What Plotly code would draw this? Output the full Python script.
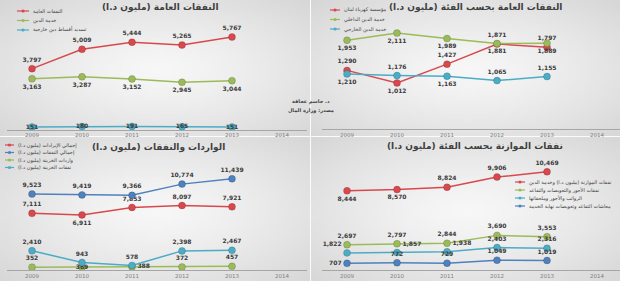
import plotly.graph_objects as go
import zlib, struct, base64

# ---------------- data ----------------
years = [2009, 2010, 2011, 2012, 2013, 2014]
year_labels = ["2009", "2010", "2011", "2012", "2013", "2014"]
data_years = years[:5]

# panel 1 : النفقات العامة
p1_title = "النفقات العامة (مليون د.ا)"
p1_names = ["النفقات العامة", "خدمة الدين", "تسديد أقساط دين خارجية"]
p1_total = [3797, 5009, 5444, 5265, 5767]
p1_debt = [3163, 3287, 3152, 2945, 3044]
p1_ext = [151, 180, 191, 165, 151]

# panel 2 : النفقات العامة بحسب الفئة
p2_title = "النفقات العامة بحسب الفئة (مليون د.ا)"
p2_names = ["مؤسسة كهرباء لبنان", "خدمة الدين الداخلي", "خدمة الدين الخارجي"]
p2_edl = [1290, 1012, 1427, 1871, 1797]
p2_internal = [1953, 2111, 1989, 1881, 1889]
p2_external = [1210, 1176, 1163, 1065, 1155]

# panel 3 : الواردات والنفقات
p3_title = "الواردات والنفقات (مليون د.ا)"
p3_names = ["إجمالي الإيرادات (مليون د.ا)", "إجمالي النفقات (مليون د.ا)",
            "واردات الخزينة (مليون د.ا)", "نفقات الخزينة (مليون د.ا)"]
p3_revenue = [7111, 6911, 7853, 8097, 7921]
p3_expense = [9523, 9419, 9366, 10774, 11439]
p3_treas_in = [352, 369, 388, 372, 457]
p3_treas_out = [2410, 943, 578, 2398, 2467]

# panel 4 : نفقات الموازنة بحسب الفئة
p4_title = "نفقات الموازنة بحسب الفئة (مليون د.ا)"
p4_names = ["نفقات الموازنة (مليون د.ا) وخدمة الدين", "نفقات الأجور والتعويضات والتقاعد",
            "الرواتب والأجور وملحقاتها", "معاشات التقاعد وتعويضات نهاية الخدمة"]
p4_budget = [8444, 8570, 8824, 9906, 10469]
p4_wages = [2697, 2797, 2844, 3690, 3553]
p4_salaries = [1822, 1857, 1938, 2403, 2316]
p4_pensions = [707, 772, 729, 1049, 1019]

credit = ["د. جاسم عجاقة", "مصدر: وزارة المال"]

RED, GREEN, CYAN, BLUE = "#d9484d", "#9bbb59", "#4bacc6", "#4f81bd"

W, H = 620, 281
def fx(p): return p / W
def fy(p): return 1 - p / H

# ---------------- background gradient image ----------------
def png_rgb(w, h, rows):
    raw = b"".join(b"\x00" + bytes(r) for r in rows)
    def chunk(t, d):
        c = struct.pack(">I", len(d)) + t + d
        return c + struct.pack(">I", zlib.crc32(t + d) & 0xffffffff)
    return (b"\x89PNG\r\n\x1a\n" + chunk(b"IHDR", struct.pack(">IIBBBBB", w, h, 8, 2, 0, 0, 0))
            + chunk(b"IDAT", zlib.compress(raw)) + chunk(b"IEND", b""))

gw, gh = 80, 40
rows = []
for j in range(gh):
    row = []
    for i in range(gw):
        dx = (i - gw / 2) / (gw / 2)
        dy = (j - gh / 2) / (gh / 2)
        d = min(1.0, ((dx * dx + dy * dy) / 2) ** 0.5)
        v = int(round(247 - (247 - 214) * d ** 1.3))
        row += [v, v, v]
    rows.append(row)
bg_src = "data:image/png;base64," + base64.b64encode(png_rgb(gw, gh, rows)).decode()

# ---------------- panels ----------------
panels = [
    dict(xd=(7, 307), yd=(17.3, 129.5), yr=7000, title=p1_title, tpos=(160, 7),
         bg=(0, 0, 310, 136),
         series=[(p1_names[0], p1_total, RED, ["top center"] * 5),
                 (p1_names[1], p1_debt, GREEN, ["bottom center"] * 5),
                 (p1_names[2], p1_ext, CYAN, ["middle center"] * 5)],
         leg=(17, 29, 11, 9.5)),
    dict(xd=(322, 620), yd=(15.4, 129), yr=2500, title=p2_title, tpos=(475, 7),
         bg=(311, 0, 620, 136),
         series=[(p2_names[0], p2_edl, RED, ["top center", "bottom center", "top center", "top center", "top center"]),
                 (p2_names[1], p2_internal, GREEN, ["bottom center"] * 5),
                 (p2_names[2], p2_external, CYAN, ["bottom center", "top center", "bottom center", "top center", "top center"])],
         leg=(330, 340, 10, 9.5)),
    dict(xd=(7, 307), yd=(158.4, 270), yr=14000, title=p3_title, tpos=(158, 147),
         bg=(0, 137, 310, 281),
         series=[(p3_names[0], p3_revenue, RED, ["top center", "bottom center", "top center", "top center", "top center"]),
                 (p3_names[1], p3_expense, BLUE, ["top center"] * 5),
                 (p3_names[2], p3_treas_in, GREEN, ["top center", "middle center", "middle right", "top center", "top center"]),
                 (p3_names[3], p3_treas_out, CYAN, ["top center"] * 5)],
         leg=(5, 14, 145, 7.5)),
    dict(xd=(322, 620), yd=(157.4, 270), yr=12000, title=p4_title, tpos=(475, 146),
         bg=(311, 137, 620, 281),
         series=[(p4_names[0], p4_budget, RED, ["bottom center", "bottom center", "top center", "top center", "top center"]),
                 (p4_names[1], p4_wages, GREEN, ["top center"] * 5),
                 (p4_names[2], p4_salaries, CYAN, ["top left", "top right", "top right", "top center", "top center"]),
                 (p4_names[3], p4_pensions, BLUE, ["middle left", "top center", "top center", "top center", "top center"])],
         leg=(515, 525, 182, 8)),
]

fig = go.Figure()
layout = dict(width=W, height=H, margin=dict(l=0, r=0, t=0, b=0),
              paper_bgcolor="#fbfbfb", plot_bgcolor="rgba(0,0,0,0)",
              showlegend=False, font=dict(family="DejaVu Sans"))
shapes, annotations, images = [], [], []

for k, p in enumerate(panels, start=1):
    xa = "x" if k == 1 else f"x{k}"
    ya = "y" if k == 1 else f"y{k}"
    xspan = (p["xd"][1] - p["xd"][0]) / 50.0
    layout["xaxis" if k == 1 else f"xaxis{k}"] = dict(
        domain=[fx(p["xd"][0]), fx(p["xd"][1])], range=[2008.5, 2008.5 + xspan],
        anchor=ya, showline=True, linecolor="#a6a6a6", linewidth=1, showgrid=False,
        zeroline=False, ticks="", tickvals=years, ticktext=year_labels,
        tickfont=dict(size=5.5, color="#7f7f7f"), fixedrange=True)
    layout["yaxis" if k == 1 else f"yaxis{k}"] = dict(
        domain=[fy(p["yd"][1]), fy(p["yd"][0])], range=[0, p["yr"]], anchor=xa,
        visible=False, fixedrange=True)
    x0, y0, x1, y1 = p["bg"]
    images.append(dict(source=bg_src, xref="paper", yref="paper", x=fx(x0), y=fy(y0),
                       sizex=(x1 - x0) / W, sizey=(y1 - y0) / H, sizing="stretch",
                       xanchor="left", yanchor="top", layer="below"))
    annotations.append(dict(text="<b>" + p["title"] + "</b>", xref="paper", yref="paper",
                            x=fx(p["tpos"][0]), y=fy(p["tpos"][1]), xanchor="center", yanchor="middle",
                            showarrow=False, font=dict(size=9, color="#404040")))
    lx0, lx1, ly0, ldy = p["leg"]
    for i, (name, vals, col, tpos) in enumerate(p["series"]):
        fig.add_trace(go.Scatter(
            x=data_years, y=vals, xaxis=xa, yaxis=ya, name=name,
            mode="lines+markers+text", line=dict(color=col, width=1.5),
            marker=dict(size=7, color=col, line=dict(width=0.6, color="rgba(0,0,0,0.25)")),
            texttemplate="<b>%{y:,}</b>", textposition=tpos,
            textfont=dict(size=6, color="#3a3a3a"), cliponaxis=False, hoverinfo="skip"))
        ly = ly0 + i * ldy
        shapes.append(dict(type="line", xref="paper", yref="paper", x0=fx(lx0), x1=fx(lx1),
                           y0=fy(ly), y1=fy(ly), line=dict(color=col, width=1.2)))
        cx = (lx0 + lx1) / 2
        shapes.append(dict(type="circle", xref="paper", yref="paper", x0=fx(cx - 1.6), x1=fx(cx + 1.6),
                           y0=fy(ly + 1.6), y1=fy(ly - 1.6), fillcolor=col, line=dict(width=0)))
        annotations.append(dict(text=name, xref="paper", yref="paper", x=fx(lx1 + 2), y=fy(ly),
                                xanchor="left", yanchor="middle", showarrow=False,
                                font=dict(size=5, color="#404040")))

for i, t in enumerate(credit):
    annotations.append(dict(text="<b>" + t + "</b>", xref="paper", yref="paper",
                            x=fx(311), y=fy(102 + i * 8), xanchor="center", yanchor="middle",
                            showarrow=False, font=dict(size=5, color="#404040")))

layout["shapes"] = shapes
layout["annotations"] = annotations
layout["images"] = images
fig.update_layout(**layout)
fig.write_html("out.html")
